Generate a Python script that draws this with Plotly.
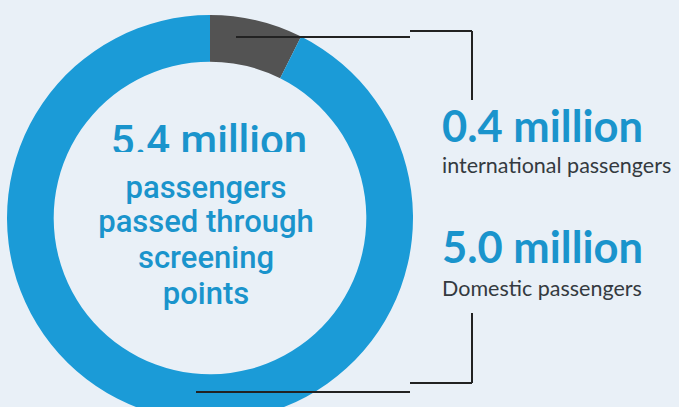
import plotly.graph_objects as go

# ---- data ----
categories = ["international passengers", "Domestic passengers"]
values = [0.4, 5.0]          # million passengers
unit = "million"
center_lines = ["passengers", "passed through", "screening", "points"]

total = sum(values)

BG = "#e9f0f7"
BLUE = "#1b9bd7"
TEXT_BLUE = "#1a94cc"
DARK = "#535353"

W, H = 679, 421

fig = go.Figure()

# donut
fig.add_trace(go.Pie(
    labels=categories, values=values, hole=0.77, sort=False,
    direction="clockwise", rotation=0,
    marker=dict(colors=[DARK, BLUE], line=dict(width=0)),
    textinfo="none", hoverinfo="label+value", showlegend=False,
    domain=dict(x=[7 / W, 413 / W], y=[0, 1 - 15 / H]),
))

# big total number (as text mark so that it can be partly masked like in the reference)
fig.add_trace(go.Scatter(
    x=[209], y=[144], mode="text",
    text=[f"{total:.1f} {unit}"], textposition="middle center",
    textfont=dict(family="Roboto", size=42, color=TEXT_BLUE, weight=500),
    hoverinfo="skip", showlegend=False,
))

# center caption
fig.add_trace(go.Scatter(
    x=[206] * len(center_lines), y=[190, 224, 260, 296], mode="text",
    text=center_lines, textposition="middle center",
    textfont=dict(family="Roboto", size=31, color=TEXT_BLUE, weight=500),
    hoverinfo="skip", showlegend=False,
))

# right labels
fig.add_trace(go.Scatter(
    x=[442, 442], y=[131, 252], mode="text",
    text=[f"{v:.1f} {unit}" for v in values], textposition="middle right",
    textfont=dict(family="Lato", size=43.5, color=TEXT_BLUE, weight=700),
    hoverinfo="skip", showlegend=False,
))
fig.add_trace(go.Scatter(
    x=[442, 442], y=[168, 291], mode="text",
    text=categories, textposition="middle right",
    textfont=dict(family="Lato", size=21.5, color="#343a40"),
    hoverinfo="skip", showlegend=False,
))

shapes = []
# mask band across the total number (as in reference)
shapes.append(dict(type="rect", xref="x", yref="y", x0=70, x1=350, y0=152, y1=170,
                   fillcolor=BG, line=dict(width=0), layer="above"))
line = dict(color="#222222", width=2)
# leader lines
for (x0, y0, x1, y1) in [(236, 37, 410, 37), (410, 31, 472, 31), (472, 31, 472, 100),
                         (196, 392, 410, 392), (410, 383, 472, 383), (472, 383, 472, 313)]:
    shapes.append(dict(type="line", xref="x", yref="y", x0=x0, y0=y0, x1=x1, y1=y1,
                       line=line, layer="above"))

fig.update_layout(
    width=W, height=H,
    margin=dict(l=0, r=0, t=0, b=0),
    paper_bgcolor=BG, plot_bgcolor="rgba(0,0,0,0)",
    xaxis=dict(range=[0, W], visible=False, fixedrange=True),
    yaxis=dict(range=[H, 0], visible=False, fixedrange=True),
    shapes=shapes,
    showlegend=False,
)

fig.write_html("out.html", config={"displayModeBar": False})
